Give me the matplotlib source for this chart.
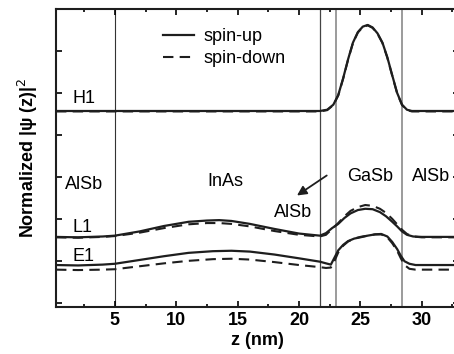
import numpy as np
import matplotlib
matplotlib.use("Agg")
import matplotlib.pyplot as plt

plt.rcParams['font.family'] = ['Liberation Sans', 'DejaVu Sans']

# ---- data ----
H1_z = [0.2, 5, 10, 15, 20, 21.7, 22.3, 22.8, 23.2, 23.6, 24.0, 24.4, 24.8, 25.2,
        25.6, 26.0, 26.4, 26.8, 27.2, 27.6, 28.0, 28.4, 28.8, 29.2, 33]
H1_up = [4.57, 4.57, 4.57, 4.57, 4.57, 4.57, 4.6, 4.72, 4.95, 5.35, 5.8, 6.2, 6.45,
         6.58, 6.62, 6.56, 6.42, 6.2, 5.85, 5.42, 5.0, 4.72, 4.6, 4.57, 4.57]
H1_dn = [4.56, 4.56, 4.56, 4.56, 4.56, 4.56, 4.59, 4.71, 4.94, 5.34, 5.79, 6.19, 6.44,
         6.57, 6.61, 6.55, 6.41, 6.19, 5.84, 5.41, 4.99, 4.71, 4.59, 4.56, 4.56]

L1_z = [0.2, 2, 4, 5, 7, 9, 11, 12.5, 13.5, 14.5, 16, 18, 20, 21.7, 22.2, 22.7, 23.2,
        23.7, 24.2, 24.8, 25.4, 26.0, 26.6, 27.1, 27.6, 28.0, 28.4, 28.8, 29.3, 30, 33]
L1_up = [1.57, 1.56, 1.58, 1.6, 1.7, 1.83, 1.93, 1.96, 1.97, 1.95, 1.88, 1.76, 1.65,
         1.6, 1.66, 1.78, 1.88, 2.02, 2.13, 2.21, 2.24, 2.23, 2.16, 2.06, 1.93, 1.82,
         1.7, 1.62, 1.58, 1.57, 1.57]
L1_dn = [1.56, 1.55, 1.57, 1.59, 1.67, 1.78, 1.87, 1.9, 1.9, 1.88, 1.82, 1.71, 1.62,
         1.58, 1.62, 1.76, 1.9, 2.06, 2.19, 2.28, 2.33, 2.31, 2.24, 2.14, 2.0, 1.87,
         1.74, 1.64, 1.58, 1.56, 1.56]

E1_z = [0.2, 2, 4, 5, 7, 9, 11, 13, 14.5, 16, 18, 20, 21.7, 22.2, 22.6, 22.9, 23.2,
        23.6, 24.0, 24.5, 25.0, 25.6, 26.2, 26.7, 27.2, 27.6, 28.0, 28.3, 28.6, 29.0,
        29.5, 30, 33]
E1_up = [0.9, 0.89, 0.91, 0.93, 1.02, 1.11, 1.19, 1.23, 1.24, 1.22, 1.15, 1.06, 0.98,
         0.94, 0.91, 1.08, 1.25, 1.38, 1.47, 1.53, 1.56, 1.6, 1.63, 1.64, 1.58, 1.45,
         1.28, 1.12, 0.99, 0.93, 0.9, 0.9, 0.9]
E1_dn = [0.79, 0.78, 0.79, 0.8, 0.87, 0.94, 1.0, 1.04, 1.05, 1.03, 0.97, 0.9, 0.85,
         0.83, 0.84, 1.0, 1.2, 1.36, 1.46, 1.53, 1.57, 1.6, 1.63, 1.63, 1.56, 1.42,
         1.24, 1.06, 0.9, 0.81, 0.79, 0.79, 0.79]

interfaces = [5.0, 21.7, 23.0, 28.4]
iface_colors = ['#333333', '#444444', '#8a8a8a', '#8a8a8a']
iface_widths = [0.8, 0.9, 1.2, 1.2]

state_labels = ['H1', 'L1', 'E1']
state_label_y = [4.86, 1.79, 1.1]

layer_names = ['AlSb', 'InAs', 'GaSb', 'AlSb']
layer_x = [2.5, 14.0, 25.8, 30.8]
layer_y = [2.81, 2.88, 3.0, 3.0]

# ---- figure ----
fig = plt.figure(figsize=(4.54, 3.54), dpi=100)
ax = fig.add_axes([56 / 454, 47 / 354, 402.5 / 454, 298 / 354])

for x, c, w in zip(interfaces, iface_colors, iface_widths):
    ax.axvline(x, color=c, lw=w, zorder=1)

lc = '#1e1e1e'
ax.plot(H1_z, H1_dn, color=lc, lw=1.5, dashes=(5, 3))
ax.plot(L1_z, L1_dn, color=lc, lw=1.5, dashes=(5, 3))
ax.plot(E1_z, E1_dn, color=lc, lw=1.5, dashes=(5, 3))
ax.plot(H1_z, H1_up, color=lc, lw=1.6, label='spin-up')
ax.plot(L1_z, L1_up, color=lc, lw=1.6)
ax.plot(E1_z, E1_up, color=lc, lw=1.6)
ax.plot([], [], color=lc, lw=1.5, dashes=(5, 3), label='spin-down')

for s, y in zip(state_labels, state_label_y):
    ax.text(1.55, y, s, fontsize=13, ha='left', va='center')

for s, x, y in zip(layer_names, layer_x, layer_y):
    ax.text(x, y, s, fontsize=13, ha='center', va='center')

ax.text(19.5, 2.14, 'AlSb', fontsize=13, ha='center', va='center')
ax.annotate('', xy=(19.65, 2.52), xytext=(22.45, 3.07),
            arrowprops=dict(arrowstyle='-|>', color=lc, lw=1.3,
                            mutation_scale=14))

ax.set_xlim(0.2, 33)
ax.set_ylim(-0.1, 7.0)
ax.set_xticks([5, 10, 15, 20, 25, 30])
ax.set_xticks(np.arange(2.5, 33, 2.5), minor=True)
ax.set_yticks(range(0, 7))
ax.set_yticklabels([])
ax.tick_params(which='both', direction='in', top=True, right=True, width=1.2)
ax.tick_params(which='major', length=4.5, labelsize=13)
ax.tick_params(which='minor', length=2.5)
for lab in ax.get_xticklabels():
    lab.set_fontweight('bold')
for sp in ax.spines.values():
    sp.set_linewidth(1.5)
    sp.set_color('#1e1e1e')

ax.set_xlabel('z (nm)', fontsize=13, fontweight='bold', labelpad=2)
ax.set_ylabel(r'Normalized |ψ (z)|$^{2}$', fontsize=13, fontweight='bold', labelpad=8)

ax.legend(loc='upper left', bbox_to_anchor=(0.266, 0.935), frameon=False,
          fontsize=13, handlelength=1.7, handletextpad=0.55, labelspacing=0.25,
          borderpad=0, borderaxespad=0)

fig.savefig('out.png', dpi=100)
